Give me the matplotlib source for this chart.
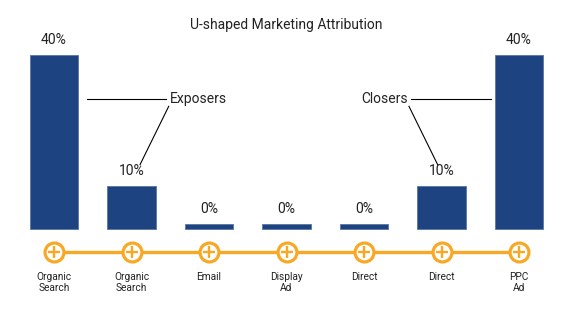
import matplotlib.pyplot as plt

plt.rcParams['font.family'] = ['Roboto', 'DejaVu Sans']

# chart data
steps = ['Organic\nSearch', 'Organic\nSearch', 'Email', 'Display\nAd', 'Direct', 'Direct', 'PPC\nAd']
shares = [40, 10, 0, 0, 0, 10, 40]
share_labels = ['40%', '10%', '0%', '0%', '0%', '10%', '40%']

bar_color = '#1d4380'
orange = '#f9a825'
text_color = '#222222'

fig = plt.figure(figsize=(5.7, 3.23), dpi=100)
ax = fig.add_axes([0, 0, 1, 1])
ax.set_xlim(-0.697, 6.658)
ax.set_ylim(-21.6, 52.64)
ax.axis('off')

x = list(range(len(steps)))
# zero-share bars still show as a thin sliver
heights = [max(v, 1.2) for v in shares]
ax.bar(x, heights, width=0.62, color=bar_color, edgecolor='#5a76a6', linewidth=0.6, zorder=2)

for xi, h, lab in zip(x, heights, share_labels):
    ax.annotate(lab, (xi, h), xytext=(0, 5.5), textcoords='offset points',
                ha='center', va='bottom', fontsize=10, color=text_color)

# timeline under the bars
line_y = -5.3
ax.plot([x[0], x[-1]], [line_y, line_y], color=orange, lw=2.4, zorder=3)
ax.scatter(x, [line_y] * len(x), s=185, facecolor='white', edgecolor=orange, linewidth=2.3, zorder=4)
ax.scatter(x, [line_y] * len(x), s=80, marker='+', color=orange, linewidth=1.7, zorder=5)

for xi, lab in zip(x, steps):
    ax.annotate(lab, (xi, line_y), xytext=(0, -14), textcoords='offset points',
                ha='center', va='top', fontsize=7.3, color=text_color, linespacing=1.15)

# callouts
ax.text(1.49, 30, 'Exposers', ha='left', va='center', fontsize=10, color=text_color)
ax.plot([0.43, 1.44], [30, 30], color='black', lw=0.8)
ax.plot([1.48, 1.11], [28.2, 14.8], color='black', lw=0.8)

ax.text(4.56, 30, 'Closers', ha='right', va='center', fontsize=10, color=text_color)
ax.plot([4.61, 5.64], [30, 30], color='black', lw=0.8)
ax.plot([4.58, 4.95], [28.2, 14.8], color='black', lw=0.8)

ax.text(3.0, 46.8, 'U-shaped Marketing Attribution', ha='center', va='center',
        fontsize=10, color=text_color)

fig.savefig('out.png', dpi=100)
